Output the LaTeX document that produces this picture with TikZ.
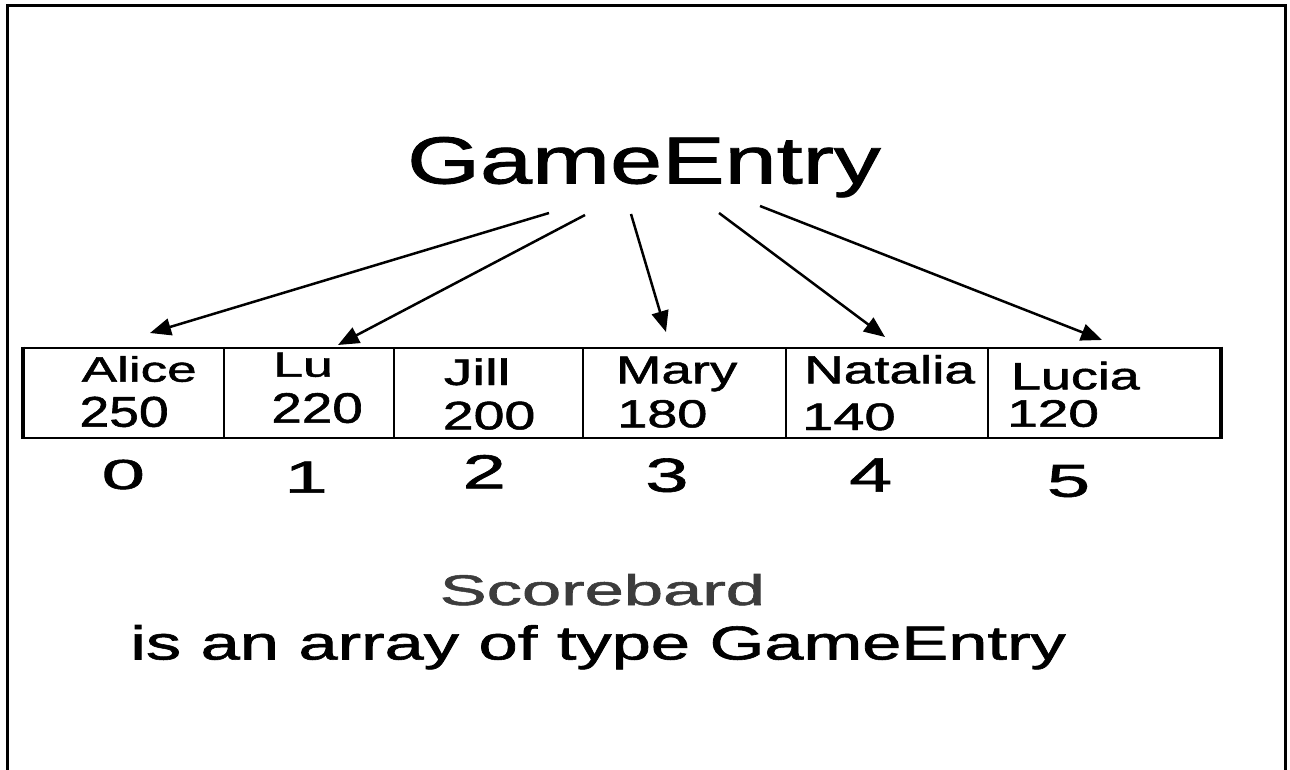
\documentclass[tikz,border=0pt]{standalone}
\usepackage{fontspec}
\setmainfont[FakeBold=1.2]{Liberation Sans}
\usepackage{graphicx}
\usetikzlibrary{arrows.meta}
\definecolor{capgray}{HTML}{3C3C3C}
% text stretched to a given box width and height (in pt)
\newcommand{\fitbox}[3]{\resizebox{#1pt}{#2pt}{#3}}
\begin{document}
\begin{tikzpicture}[x=1pt,y=-1pt,
  lbl/.style={anchor=base west, inner sep=0pt, outer sep=0pt},
  cell/.style={draw, line width=2.2pt, minimum height=90.5pt, inner sep=0pt, anchor=north west},
  ptr/.style={line width=2.5pt, -{Triangle[length=21pt,width=17pt]}},
]
\useasboundingbox (0,0) rectangle (1290,770);

% frame (open at the bottom)
\draw[line width=3pt] (7,770) -- (7,6) -- (1285,6) -- (1285,770);

% title
\node[lbl] (ge) at (407.2,183.5) {\fitbox{473.4}{46.5}{GameEntry}};

% array cells
\node[cell, minimum width=200pt] (c0) at (23,346.5) {};
\node[cell, minimum width=170pt] (c1) at (223,346.5) {};
\node[cell, minimum width=189pt] (c2) at (393,346.5) {};
\node[cell, minimum width=203pt] (c3) at (582,346.5) {};
\node[cell, minimum width=202pt] (c4) at (785,346.5) {};
\node[cell, minimum width=232pt] (c5) at (987,346.5) {};
\draw[line width=3.2pt] (c0.north west) -- (c0.south west);
\draw[line width=3.2pt] (c5.north east) -- (c5.south east);

% names
\node[lbl] (n0) at (81.7,381.7) {\fitbox{115}{25.7}{Alice}};
\node[lbl] (n1) at (273.2,376.7) {\fitbox{59.7}{24}{Lu}};
\node[lbl] (n2) at (443.9,385) {\fitbox{66.5}{26.7}{Jill}};
\node[lbl] (n3) at (616,383.3) {\fitbox{121.3}{26.7}{Mary}};
\node[lbl] (n4) at (804.1,383.3) {\fitbox{170.9}{28.3}{Natalia}};
\node[lbl] (n5) at (1011,389.3) {\fitbox{128.8}{27.7}{Lucia}};

% scores
\node[lbl] (v0) at (79.5,426.7) {\fitbox{89.2}{30}{250}};
\node[lbl] (v1) at (271.4,422.7) {\fitbox{91.4}{29.7}{220}};
\node[lbl] (v2) at (442.8,429.3) {\fitbox{92.5}{27.7}{200}};
\node[lbl] (v3) at (617.4,427.3) {\fitbox{89.9}{27.3}{180}};
\node[lbl] (v4) at (802.2,430) {\fitbox{93.4}{26.7}{140}};
\node[lbl] (v5) at (1007.3,426.7) {\fitbox{91.6}{26.7}{120}};

% indices
\node[lbl] (i0) at (101.7,489) {\fitbox{43.2}{29.3}{0}};
\node[lbl] (i1) at (284.5,492.7) {\fitbox{43.2}{31}{1}};
\node[lbl] (i2) at (462.7,488.3) {\fitbox{43.2}{33.3}{2}};
\node[lbl] (i3) at (645.3,491.7) {\fitbox{43.2}{33.3}{3}};
\node[lbl] (i4) at (849.2,491.7) {\fitbox{42.9}{33.3}{4}};
\node[lbl] (i5) at (1046.9,496.7) {\fitbox{43.2}{31.7}{5}};

% caption
\node[lbl, text=capgray] (cap1) at (439.7,605) {\fitbox{325.2}{31}{Scorebard}};
\node[lbl] (cap2) at (130.3,659.5) {\fitbox{935.4}{34.5}{is an array of type GameEntry}};

% pointers from the type name to the entries
\coordinate (f0) at (549,213);  \coordinate (t0) at (150,333);
\coordinate (f1) at (585,215);  \coordinate (t1) at (338,345);
\coordinate (f2) at (631,214);  \coordinate (t2) at (666,332);
\coordinate (f3) at (719,213);  \coordinate (t3) at (885,337);
\coordinate (f4) at (760,206);  \coordinate (t4) at (1102,340);
\draw[ptr] (f0) -- (t0);
\draw[ptr] (f1) -- (t1);
\draw[ptr] (f2) -- (t2);
\draw[ptr] (f3) -- (t3);
\draw[ptr] (f4) -- (t4);
\end{tikzpicture}
\end{document}
